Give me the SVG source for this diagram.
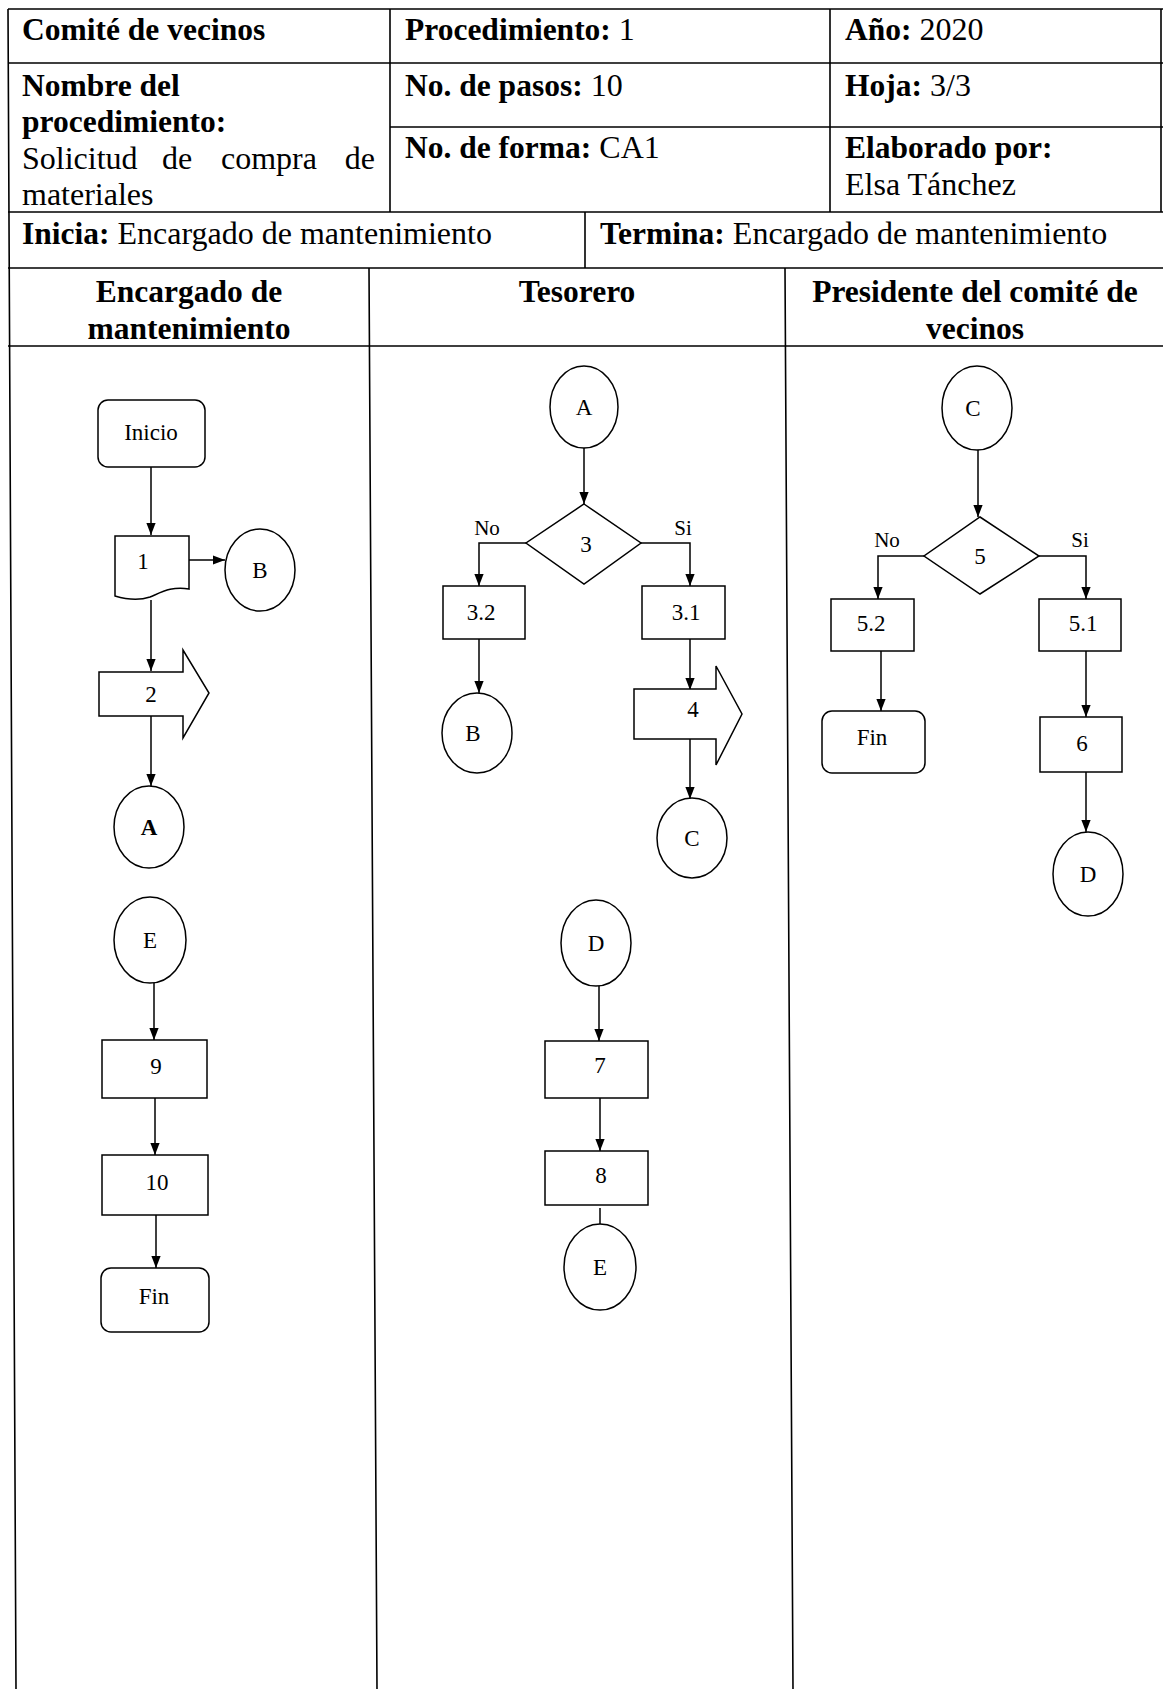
<svg xmlns="http://www.w3.org/2000/svg" width="1163" height="1689" viewBox="0 0 1163 1689">
<style>
.t{font-family:"Liberation Serif","Times New Roman",serif;fill:#000}
.h{font-size:32px}
.b{font-weight:bold;font-size:31.5px}
.n{font-size:23px;text-anchor:middle}
.lbl{font-size:21px;text-anchor:middle}
.ln{stroke:#000;stroke-width:1.6;fill:none}
.s{stroke:#000;stroke-width:1.5;fill:#fff}
.c{stroke:#000;stroke-width:1.5;fill:none}
</style>
<defs>
<marker id="ah" viewBox="0 0 13 10" refX="13" refY="5" markerWidth="12" markerHeight="10" markerUnits="userSpaceOnUse" orient="auto"><path d="M0,0 L13,5 L0,10 z" fill="#000"/></marker>
</defs>
<rect width="1163" height="1689" fill="#fff"/>
<g id="table">
<path class="ln" d="M8,9 H1163 M8,63 H1163 M390,127 H1163 M8,212 H1163 M8,268 H1163 M8,346 H1163"/>
<path class="ln" d="M8,9 L16,1689 M390,9 V212 M830,9 V212 M1161,9 V212 M585,212 V268 M369,268 L377,1689 M785,268 L793,1689"/>
</g>
<g id="header-text">
<text class="t h b" x="22" y="40">Comité de vecinos</text>
<text class="t h" x="405" y="40"><tspan class="b">Procedimiento:</tspan> 1</text>
<text class="t h" x="845" y="40"><tspan class="b">Año:</tspan> 2020</text>
<text class="t h b" x="22" y="96">Nombre del</text>
<text class="t h b" x="22" y="132">procedimiento:</text>
<text class="t h" y="169"><tspan x="22">Solicitud</tspan><tspan x="162">de</tspan><tspan x="221">compra</tspan><tspan x="375" text-anchor="end">de</tspan></text>
<text class="t h" x="22" y="205">materiales</text>
<text class="t h" x="405" y="96"><tspan class="b">No. de pasos:</tspan> 10</text>
<text class="t h" x="845" y="96"><tspan class="b">Hoja:</tspan> 3/3</text>
<text class="t h" x="405" y="158"><tspan class="b">No. de forma:</tspan> CA1</text>
<text class="t h b" x="845" y="158">Elaborado por:</text>
<text class="t h" x="845" y="195">Elsa Tánchez</text>
<text class="t h" x="22" y="244"><tspan class="b">Inicia:</tspan> Encargado de mantenimiento</text>
<text class="t h" x="600" y="244"><tspan class="b">Termina:</tspan> Encargado de mantenimiento</text>
<text class="t h b" x="189" y="302" text-anchor="middle">Encargado de</text>
<text class="t h b" x="189" y="339" text-anchor="middle">mantenimiento</text>
<text class="t h b" x="577" y="302" text-anchor="middle">Tesorero</text>
<text class="t h b" x="975" y="302" text-anchor="middle">Presidente del comité de</text>
<text class="t h b" x="975" y="339" text-anchor="middle">vecinos</text>
</g>
<g id="connectors">
<path class="c" marker-end="url(#ah)" d="M151,467 V535"/>
<path class="c" marker-end="url(#ah)" d="M189,560 H225"/>
<path class="c" marker-end="url(#ah)" d="M151,600 V671"/>
<path class="c" marker-end="url(#ah)" d="M151,716 V786"/>
<path class="c" marker-end="url(#ah)" d="M154,983 V1040"/>
<path class="c" marker-end="url(#ah)" d="M155,1098 V1155"/>
<path class="c" marker-end="url(#ah)" d="M156,1215 V1268"/>
<path class="c" marker-end="url(#ah)" d="M584,448 V504"/>
<path class="c" marker-end="url(#ah)" d="M526,543 H479 V586"/>
<path class="c" marker-end="url(#ah)" d="M641,543 H690 V586"/>
<path class="c" marker-end="url(#ah)" d="M479,639 V693"/>
<path class="c" marker-end="url(#ah)" d="M690,639 V690"/>
<path class="c" marker-end="url(#ah)" d="M690,739 V799"/>
<path class="c" marker-end="url(#ah)" d="M599,986 V1041"/>
<path class="c" marker-end="url(#ah)" d="M600,1098 V1151"/>
<path class="c" d="M600,1208 V1224"/>
<path class="c" marker-end="url(#ah)" d="M978,450 V517"/>
<path class="c" marker-end="url(#ah)" d="M924,556 H878 V599"/>
<path class="c" marker-end="url(#ah)" d="M1039,556 H1086 V599"/>
<path class="c" marker-end="url(#ah)" d="M881,651 V711"/>
<path class="c" marker-end="url(#ah)" d="M1086,651 V717"/>
<path class="c" marker-end="url(#ah)" d="M1086,772 V832"/>
<text class="t lbl" x="487" y="535">No</text>
<text class="t lbl" x="683" y="535">Si</text>
<text class="t lbl" x="887" y="547">No</text>
<text class="t lbl" x="1080" y="547">Si</text>
</g>
<g id="n-inicio"><rect class="s" x="98" y="400" width="107" height="67" rx="10"/><text class="t n" x="151" y="440">Inicio</text></g>
<g id="n-1"><path class="s" d="M115,536 H189 V589 C172,586 162,592 150,597 C138,601 125,599 115,596 Z"/><text class="t n" x="143" y="569">1</text></g>
<g id="n-B1"><ellipse class="s" cx="260" cy="570" rx="35" ry="41"/><text class="t n" x="260" y="578">B</text></g>
<g id="n-2"><path class="s" d="M99,672 H183 V650 L209,693 L183,738 V716 H99 Z"/><text class="t n" x="151" y="702">2</text></g>
<g id="n-A1"><ellipse class="s" cx="149" cy="827" rx="35" ry="41"/><text class="t n" x="149" y="835" font-weight="bold">A</text></g>
<g id="n-E1"><ellipse class="s" cx="150" cy="940" rx="36" ry="43"/><text class="t n" x="150" y="948">E</text></g>
<g id="n-9"><rect class="s" x="102" y="1040" width="105" height="58"/><text class="t n" x="156" y="1074">9</text></g>
<g id="n-10"><rect class="s" x="102" y="1155" width="106" height="60"/><text class="t n" x="157" y="1190">10</text></g>
<g id="n-fin1"><rect class="s" x="101" y="1268" width="108" height="64" rx="10"/><text class="t n" x="154" y="1304">Fin</text></g>
<g id="n-A2"><ellipse class="s" cx="584" cy="407" rx="34" ry="41"/><text class="t n" x="584" y="415">A</text></g>
<g id="n-3"><path class="s" d="M584,504 L641,543 L584,584 L526,543 Z"/><text class="t n" x="586" y="552">3</text></g>
<g id="n-3.2"><rect class="s" x="443" y="586" width="82" height="53"/><text class="t n" x="481" y="620">3.2</text></g>
<g id="n-3.1"><rect class="s" x="642" y="586" width="83" height="53"/><text class="t n" x="686" y="620">3.1</text></g>
<g id="n-B2"><ellipse class="s" cx="477" cy="733" rx="35" ry="40"/><text class="t n" x="473" y="741">B</text></g>
<g id="n-4"><path class="s" d="M634,689 H716 V666 L742,714 L716,765 V739 H634 Z"/><text class="t n" x="693" y="717">4</text></g>
<g id="n-C1"><ellipse class="s" cx="692" cy="838" rx="35" ry="40"/><text class="t n" x="692" y="846">C</text></g>
<g id="n-D2"><ellipse class="s" cx="596" cy="943" rx="35" ry="43"/><text class="t n" x="596" y="951">D</text></g>
<g id="n-7"><rect class="s" x="545" y="1041" width="103" height="57"/><text class="t n" x="600" y="1073">7</text></g>
<g id="n-8"><rect class="s" x="545" y="1151" width="103" height="54"/><text class="t n" x="601" y="1183">8</text></g>
<g id="n-E2"><ellipse class="s" cx="600" cy="1267" rx="36" ry="43"/><text class="t n" x="600" y="1275">E</text></g>
<g id="n-C2"><ellipse class="s" cx="977" cy="408" rx="35" ry="42"/><text class="t n" x="973" y="416">C</text></g>
<g id="n-5"><path class="s" d="M980,517 L1039,556 L980,594 L924,556 Z"/><text class="t n" x="980" y="564">5</text></g>
<g id="n-5.2"><rect class="s" x="831" y="599" width="83" height="52"/><text class="t n" x="871" y="631">5.2</text></g>
<g id="n-5.1"><rect class="s" x="1039" y="599" width="82" height="52"/><text class="t n" x="1083" y="631">5.1</text></g>
<g id="n-fin2"><rect class="s" x="822" y="711" width="103" height="62" rx="10"/><text class="t n" x="872" y="745">Fin</text></g>
<g id="n-6"><rect class="s" x="1040" y="717" width="82" height="55"/><text class="t n" x="1082" y="751">6</text></g>
<g id="n-D3"><ellipse class="s" cx="1088" cy="874" rx="35" ry="42"/><text class="t n" x="1088" y="882">D</text></g>
</svg>
